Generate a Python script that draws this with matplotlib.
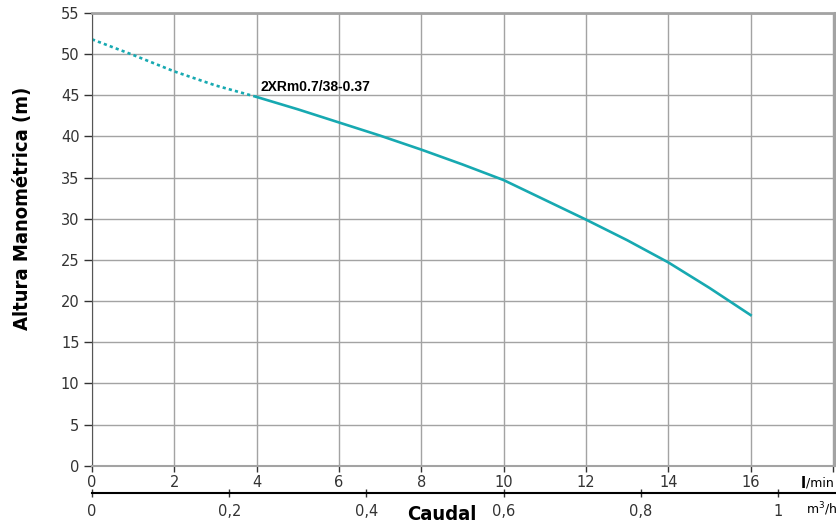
import matplotlib
matplotlib.use("Agg")
import matplotlib.pyplot as plt

# curve: flow in l/min, head in m
flowDotted = [0, 1, 2, 3, 4]
headDotted = [51.8, 49.9, 47.9, 46.2, 44.8]
flowSolid = [4, 5, 6, 7, 8, 9, 10, 11, 12, 13, 14, 15, 16]
headSolid = [44.8, 43.3, 41.7, 40.1, 38.4, 36.6, 34.7, 32.3, 29.9, 27.4, 24.7, 21.6, 18.3]

xTicks = [0, 2, 4, 6, 8, 10, 12, 14, 16]
yTicks = [0, 5, 10, 15, 20, 25, 30, 35, 40, 45, 50, 55]
m3hTicks = [0, 0.2, 0.4, 0.6, 0.8, 1]
m3hLabels = ["0", "0,2", "0,4", "0,6", "0,8", "1"]
pumpName = "2XRm0.7/38-0.37"

plt.rcParams["font.family"] = ["Liberation Sans Narrow", "DejaVu Sans"]

curveColor = "#17a9b1"
gridColor = "#a3a3a3"
boldFont = dict(family="DejaVu Sans", fontstretch="condensed", fontweight="bold")

fig = plt.figure(figsize=(8.37, 5.25), dpi=100)
ax = fig.add_axes([92 / 837, 1 - 465.7 / 525, (835 - 92) / 837, (465.7 - 13) / 525])

ax.plot(flowDotted, headDotted, color=curveColor, linewidth=1.9, linestyle=(0, (1.2, 1.2)))
ax.plot(flowSolid, headSolid, color=curveColor, linewidth=1.9)
ax.text(4.1, 46.0, pumpName, fontsize=10, fontweight="bold", family=["Liberation Sans", "DejaVu Sans"], va="center")

ax.set_xlim(0, 18.05)
ax.set_ylim(0, 55)
ax.set_xticks(xTicks + [18])
ax.set_xticklabels([str(t) for t in xTicks] + [""])
ax.set_yticks(yTicks)
ax.grid(True, color=gridColor, linewidth=1)
ax.set_axisbelow(True)

for side in ["top", "right", "bottom"]:
	ax.spines[side].set_color(gridColor)
ax.spines["top"].set_linewidth(2)
ax.spines["right"].set_linewidth(1.5)
ax.spines["bottom"].set_linewidth(1.5)
ax.spines["left"].set_color("#555555")

ax.tick_params(axis="both", colors="#333333", labelsize=10.5, length=4, width=1)
ax.tick_params(axis="x", pad=3)
ax.tick_params(axis="y", length=6, pad=3)

# second scale under the l/min scale: m3/h = l/min * 0.06
sec = ax.secondary_xaxis(-0.061, functions=(lambda q: q * 0.06, lambda m: m / 0.06))
sec.set_xticks(m3hTicks)
sec.set_xticklabels(m3hLabels)
sec.spines["bottom"].set_color("black")
sec.spines["bottom"].set_linewidth(1.5)
sec.tick_params(direction="inout", length=6, width=1, colors="#333333", labelsize=10.5, pad=5)

ax.set_ylabel("Altura Manométrica (m)", fontsize=14.5, **boldFont)
ax.yaxis.set_label_coords(-0.081, 0.569)
fig.text(442 / 837, 1 - 515 / 525, "Caudal", fontsize=14.5, ha="center", va="center", **boldFont)
fig.text(801 / 837, 1 - 483 / 525, "l", fontsize=11, fontweight="bold", ha="left", va="center")
fig.text(806 / 837, 1 - 483 / 525, "/min", fontsize=9, ha="left", va="center")
fig.text(806 / 837, 1 - 509 / 525, "m$^3$/h", fontsize=9, ha="left", va="center")

fig.savefig("out.png", dpi=100)
